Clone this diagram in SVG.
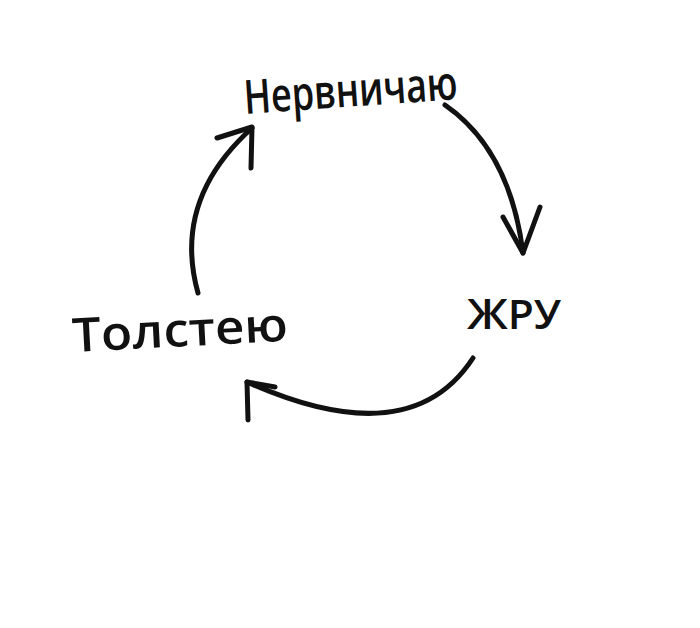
<svg xmlns="http://www.w3.org/2000/svg" width="700" height="628" viewBox="0 0 700 628">
<style>
.lbl{font-family:"Open Sans","Noto Sans",sans-serif;font-weight:600;fill:#111;}
.arr{fill:none;stroke:#111;stroke-width:5;stroke-linecap:round;stroke-linejoin:round;}
</style>
<rect width="700" height="628" fill="#fff"/>
<g id="node-nervnichayu">
<text class="lbl" x="245" y="114" font-size="47" textLength="214" lengthAdjust="spacingAndGlyphs" transform="rotate(-4 245 114)">Нервничаю</text>
</g>
<g id="node-zhru">
<text class="lbl" x="467" y="329" font-size="42" textLength="94" lengthAdjust="spacingAndGlyphs">Ж<tspan font-size="55" font-variant="small-caps">ру</tspan></text>
</g>
<g id="node-tolsteyu">
<text class="lbl" x="73" y="352" font-size="47" textLength="216" lengthAdjust="spacingAndGlyphs" transform="rotate(-3 73 352)">Толстею</text>
</g>
<g id="connectors">
<path class="arr" d="M198,293 Q172,200 252,128"/>
<path class="arr" d="M217,138 L252,127 L251,168"/>
<path class="arr" d="M445,105 Q510,150 523,253"/>
<path class="arr" d="M503,217 L523,253 L540,207"/>
<path class="arr" d="M473,358 Q410,455 247,382"/>
<path class="arr" d="M275,387 L247,382 L248,420"/>
</g>
</svg>
